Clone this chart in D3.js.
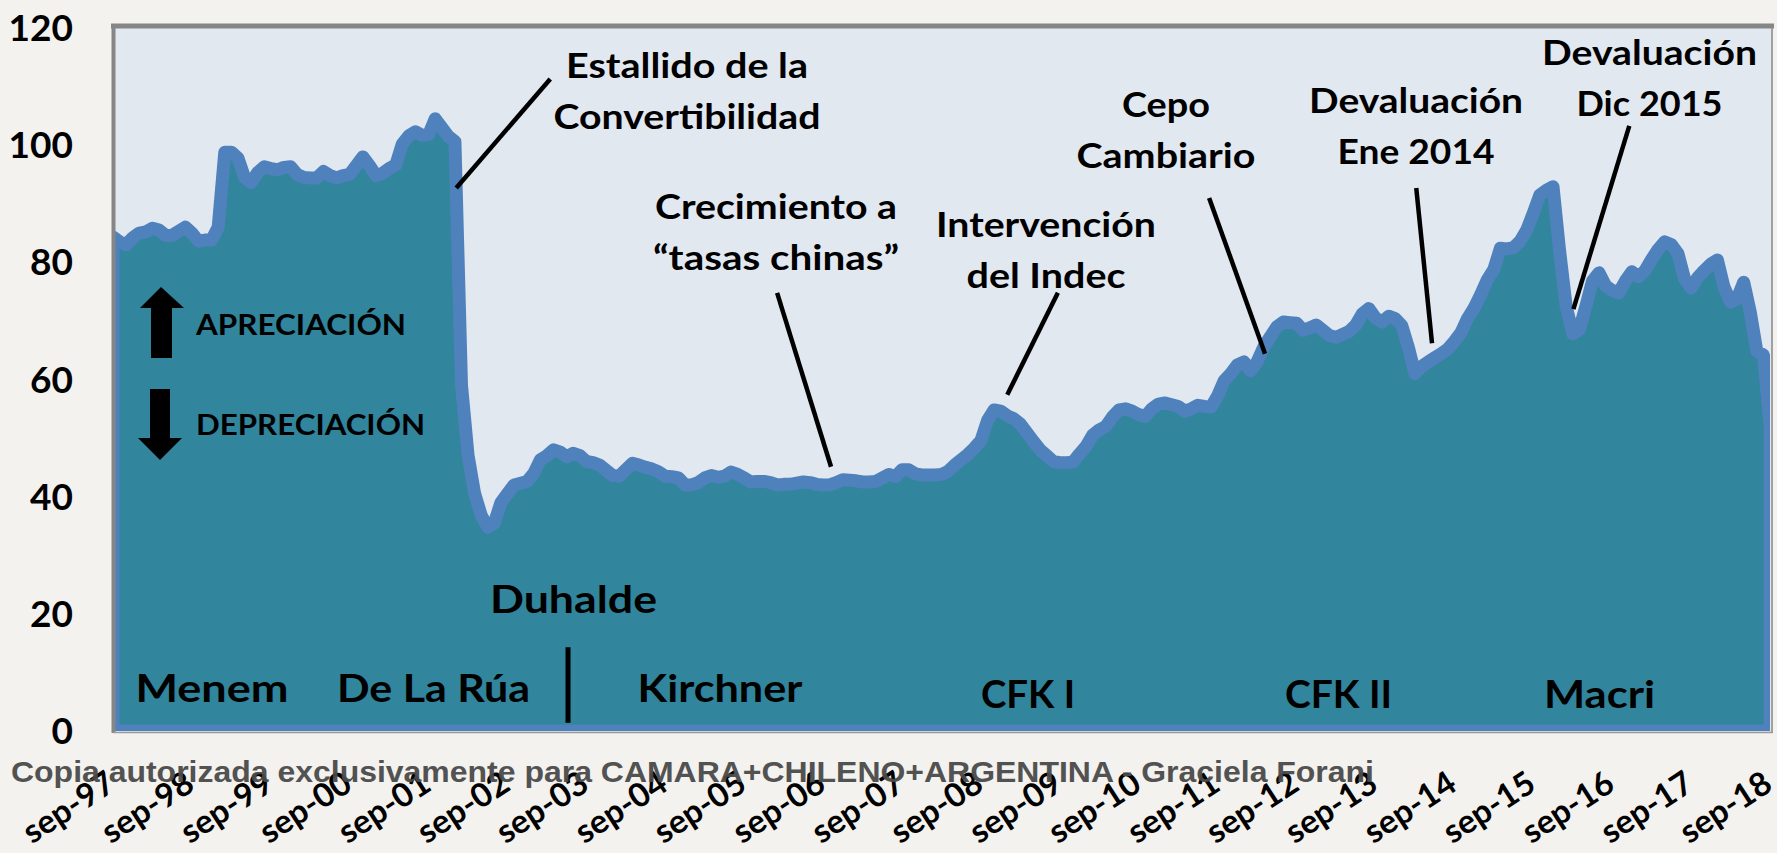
<!DOCTYPE html>
<html>
<head>
<meta charset="utf-8">
<script src="https://cdn.jsdelivr.net/npm/d3@7"></script>
<style>
	body { margin: 0; background: #f3f2ee; }
	svg { display: block; }
	text { font-family: Lato, 'Open Sans', sans-serif; font-weight: bold; }
</style>
</head>
<body>
<svg id="chart" width="1777" height="853"></svg>
<script>

// tipo de cambio real, mensual, sep-97 .. sep-18
var values = [
	84.3, 83.5, 83, 84.2, 85, 85.2, 85.8, 85.5, 84.6, 84.6,
	85.3, 86, 85, 83.6, 83.8, 83.8, 86, 98.8, 98.8, 97.8,
	94.5, 93.6, 95.3, 96.3, 96, 95.8, 96.2, 96.3, 95, 94.5,
	94.4, 94.4, 95.5, 94.8, 94.4, 94.8, 95, 96.5, 98, 96.5,
	94.8, 95.2, 96, 96.6, 100.2, 101.6, 102.3, 101.7, 101.8, 104.5,
	103, 101.5, 100.6, 59, 47, 40.5, 36.8, 34.8, 35.5, 39,
	40.5, 42, 42.3, 42.6, 44, 46.3, 47, 48, 47.6, 46.8,
	47.4, 47, 46, 45.8, 45.4, 44.5, 43.6, 43.5, 44.6, 45.7,
	45.4, 45, 44.7, 44.2, 43.5, 43.4, 43.2, 42, 42, 42.4,
	43.2, 43.6, 43.3, 43.5, 44.2, 43.8, 43.2, 42.5, 42.6, 42.6,
	42.4, 42, 42.1, 42.1, 42.3, 42.5, 42.4, 42.1, 42, 42,
	42.4, 42.9, 42.8, 42.7, 42.5, 42.5, 42.6, 43.2, 43.8, 43.4,
	44.6, 44.6, 43.9, 43.7, 43.7, 43.7, 43.8, 44.3, 45.4, 46.3,
	47.2, 48.3, 49.6, 53, 54.8, 54.6, 53.8, 53.3, 52.4, 50.9,
	49.4, 48, 47, 46, 45.8, 45.8, 45.9, 47.3, 48.6, 50.5,
	51.4, 52, 53.6, 54.8, 55, 54.6, 54, 53.7, 55, 55.8,
	56, 55.7, 55.4, 54.6, 55, 55.6, 55.4, 55.3, 57.2, 59.8,
	61, 62.5, 63, 61.5, 63, 65.5, 67.3, 69, 69.8, 69.7,
	69.6, 68.4, 68.8, 69.3, 68.4, 67.5, 67.2, 67.7, 68.2, 69.3,
	71.2, 72.1, 70.5, 69.8, 70.8, 70.4, 69.2, 65.5, 61, 62.2,
	63, 63.7, 64.4, 65.2, 66.5, 68, 70.4, 72.2, 74.5, 77,
	78.8, 82.4, 82.3, 82.5, 83.6, 85.5, 88.4, 91.5, 92.3, 92.9,
	82, 72.5, 67.8, 68.5, 72.5, 76.8, 78.2, 76, 75.2, 74.8,
	76.8, 78.4, 77.5, 78.6, 80.5, 82.2, 83.5, 83, 81.5, 77.2,
	75.6, 77.4, 78.6, 79.7, 80.4, 75.8, 73.2, 73.8, 76.6, 71.5,
	64.8, 64.2, 52
];

var tickLabels = ['sep-97', 'sep-98', 'sep-99', 'sep-00', 'sep-01', 'sep-02', 'sep-03',
	'sep-04', 'sep-05', 'sep-06', 'sep-07', 'sep-08', 'sep-09', 'sep-10', 'sep-11',
	'sep-12', 'sep-13', 'sep-14', 'sep-15', 'sep-16', 'sep-17', 'sep-18'];

var yTicks = [0, 20, 40, 60, 80, 100, 120];

var periods = ['Menem', 'De La Rúa', 'Duhalde', 'Kirchner', 'CFK I', 'CFK II', 'Macri'];

var events = [
	['Estallido de la', 'Convertibilidad'],
	['Crecimiento a', '\u201Ctasas chinas\u201D'],
	['Intervención', 'del Indec'],
	['Cepo', 'Cambiario'],
	['Devaluación', 'Ene 2014'],
	['Devaluación', 'Dic 2015']
];

var svg = d3.select('#chart');
var plotL = 113, plotR = 1770, plotT = 28, plotB = 731;

var x = d3.scaleLinear().domain([0, values.length - 1]).range([plotL, plotR]);
var y = d3.scaleLinear().domain([0, 120]).range([plotB, plotT]);

svg.append('rect')
	.attr('width', 1777).attr('height', 853)
	.style('fill', '#f3f2ee');

svg.append('rect')
	.attr('x', plotL).attr('y', plotT)
	.attr('width', plotR - plotL + 2).attr('height', plotB - plotT + 1)
	.style('fill', '#e1e8f0');

svg.append('clipPath').attr('id', 'clip')
	.append('rect')
	.attr('x', plotL).attr('y', plotT)
	.attr('width', plotR - plotL).attr('height', plotB - plotT);

var area = d3.area()
	.x(function(d, i) { return x(i); })
	.y0(y(0))
	.y1(function(d) { return y(d); });

svg.append('path')
	.datum(values)
	.attr('clip-path', 'url(#clip)')
	.attr('d', area)
	.style('fill', '#31859c')
	.style('stroke', '#4f81bd')
	.style('stroke-width', 13)
	.style('stroke-linejoin', 'round');

// marco del area de grafico
svg.append('line')
	.attr('x1', plotL - 2).attr('x2', plotR + 4).attr('y1', plotT - 2).attr('y2', plotT - 2)
	.style('stroke', '#868686').style('stroke-width', 5);
svg.append('line')
	.attr('x1', plotL + 0.5).attr('x2', plotL + 0.5).attr('y1', plotT - 4).attr('y2', plotB + 2)
	.style('stroke', '#868686').style('stroke-width', 4);
svg.append('line')
	.attr('x1', plotR + 2).attr('x2', plotR + 2).attr('y1', plotT).attr('y2', plotB + 2)
	.style('stroke', '#a0a0a0').style('stroke-width', 2);
svg.append('line')
	.attr('x1', plotL).attr('x2', plotR + 3).attr('y1', plotB + 1.5).attr('y2', plotB + 1.5)
	.style('stroke', '#9a9a9a').style('stroke-width', 1.5);

// eje y
svg.append('g').selectAll('text')
	.data(yTicks)
	.enter().append('text')
	.attr('x', 73)
	.attr('y', function(d) { return y(d) + 13; })
	.attr('text-anchor', 'end')
	.style('font-size', '37px')
	.style('fill', 'black')
	.text(function(d) { return d; });

// eje x
var xAxis = d3.axisBottom(x)
	.tickValues(d3.range(0, values.length, 12))
	.tickFormat(function(d, i) { return tickLabels[i]; })
	.tickSize(0);

var gx = svg.append('g').call(xAxis);
gx.select('.domain').remove();
gx.attr('font-family', null).attr('font-size', null);
gx.selectAll('text')
	.attr('x', 0).attr('y', 0).attr('dy', null)
	.attr('transform', 'translate(4,789) rotate(-33)')
	.attr('text-anchor', 'end')
	.attr('textLength', 102)
	.attr('lengthAdjust', 'spacingAndGlyphs')
	.style('font-size', '33px')
	.style('fill', 'black');

// periodos presidenciales
var periodLayout = [
	{ cx: 212, y: 702, w: 153 },
	{ cx: 433.5, y: 702, w: 193 },
	{ cx: 573.5, y: 613, w: 167 },
	{ cx: 720, y: 702, w: 165 },
	{ cx: 1028, y: 708, w: 94 },
	{ cx: 1338.5, y: 708, w: 107 },
	{ cx: 1599.5, y: 708, w: 111 }
];

svg.append('g').selectAll('text')
	.data(periods)
	.enter().append('text')
	.attr('x', function(d, i) { return periodLayout[i].cx; })
	.attr('y', function(d, i) { return periodLayout[i].y; })
	.attr('text-anchor', 'middle')
	.attr('textLength', function(d, i) { return periodLayout[i].w; })
	.attr('lengthAdjust', 'spacingAndGlyphs')
	.style('font-size', '38px')
	.style('fill', 'black')
	.text(function(d) { return d; });

svg.append('line')
	.attr('x1', x(69.2)).attr('x2', x(69.2))
	.attr('y1', y(14.3)).attr('y2', y(1.4))
	.style('stroke', 'black').style('stroke-width', 5);

// eventos: texto y linea indicadora (extremos en mes / valor)
var eventLayout = [
	{ cx: 687, y: 78, w: [242, 267], from: [52.2, 92.7], to: [66.5, 111.3] },
	{ cx: 776, y: 219, w: [242, 246], from: [101, 74.8], to: [109.2, 45.1] },
	{ cx: 1046, y: 237, w: [220, 159], from: [143.7, 74.8], to: [136, 57.4] },
	{ cx: 1166, y: 117, w: [88, 179], from: [166.7, 91], to: [175.2, 64.4] },
	{ cx: 1416, y: 113, w: [214, 157], from: [198.2, 92.7], to: [200.6, 66.2] },
	{ cx: 1649.5, y: 65, w: [215, 146], from: [230.6, 103.3], to: [222.1, 72] }
];

events.forEach(function(ev, k) {
	var L = eventLayout[k];
	var g = svg.append('g');
	ev.forEach(function(line, j) {
		g.append('text')
			.attr('x', L.cx)
			.attr('y', L.y + j * 50.5)
			.attr('text-anchor', 'middle')
			.attr('textLength', L.w[j])
			.attr('lengthAdjust', 'spacingAndGlyphs')
			.style('font-size', '35px')
			.style('fill', 'black')
			.text(line);
	});
	g.append('line')
		.attr('x1', x(L.from[0])).attr('y1', y(L.from[1]))
		.attr('x2', x(L.to[0])).attr('y2', y(L.to[1]))
		.style('stroke', 'black')
		.style('stroke-width', 4.5);
});

// flechas apreciacion / depreciacion
svg.append('path')
	.attr('d', 'M161,287 L184,308 L172,308 L172,358 L151,358 L151,308 L140,308 Z')
	.style('fill', 'black');
svg.append('path')
	.attr('d', 'M150,389 L170,389 L170,438 L182,438 L160,460 L138,438 L150,438 Z')
	.style('fill', 'black');

svg.append('text')
	.attr('x', 196).attr('y', 335)
	.attr('textLength', 210).attr('lengthAdjust', 'spacingAndGlyphs')
	.style('font-size', '28px').style('fill', 'black')
	.text('APRECIACIÓN');
svg.append('text')
	.attr('x', 196).attr('y', 435)
	.attr('textLength', 229).attr('lengthAdjust', 'spacingAndGlyphs')
	.style('font-size', '28px').style('fill', 'black')
	.text('DEPRECIACIÓN');

// marca de agua
svg.append('text')
	.attr('x', 11).attr('y', 782)
	.attr('textLength', 1363).attr('lengthAdjust', 'spacingAndGlyphs')
	.style('font-family', "'Liberation Sans', Arial, sans-serif")
	.style('font-size', '30px')
	.style('fill', '#4a4a4a')
	.style('opacity', 0.95)
	.text('Copia autorizada exclusivamente para CAMARA+CHILENO+ARGENTINA - Graciela Forani');

</script>
</body>
</html>
